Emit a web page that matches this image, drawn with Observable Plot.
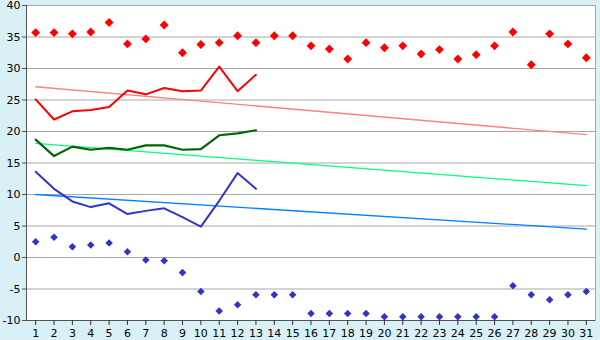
<!DOCTYPE html>
<html>
<head>
<meta charset="utf-8">
<script src="https://cdn.jsdelivr.net/npm/d3@7"></script>
<script src="https://cdn.jsdelivr.net/npm/@observablehq/plot@0.6"></script>
<style>
  html, body { margin: 0; padding: 0; background: #d9f0f6; }
  #chart { width: 600px; height: 340px; }
</style>
</head>
<body>
<div id="chart"></div>
<script>
const days = d3.range(1, 32);
const yTicks = [-10, -5, 0, 5, 10, 15, 20, 25, 30, 35, 40];

const recordMax = [35.7, 35.7, 35.5, 35.8, 37.3, 33.9, 34.7, 36.9, 32.5, 33.8,
  34.1, 35.2, 34.1, 35.2, 35.2, 33.6, 33.1, 31.5, 34.1, 33.3,
  33.6, 32.3, 33.0, 31.5, 32.2, 33.6, 35.8, 30.6, 35.5, 33.9, 31.7];
const recordMin = [2.5, 3.2, 1.7, 2.0, 2.3, 0.9, -0.4, -0.5, -2.4, -5.4,
  -8.5, -7.5, -5.9, -5.9, -5.9, -8.9, -8.9, -8.9, -8.9, -9.4,
  -9.4, -9.4, -9.4, -9.4, -9.4, -9.4, -4.5, -5.9, -6.7, -5.9, -5.4];

const obsDays = d3.range(1, 14);
const maxTemp = [25.1, 21.9, 23.2, 23.4, 23.9, 26.5, 25.9, 26.9, 26.4, 26.5, 30.3, 26.4, 29.0];
const meanTemp = [18.7, 16.1, 17.6, 17.1, 17.4, 17.1, 17.8, 17.8, 17.1, 17.2, 19.4, 19.7, 20.2];
const minTemp = [13.6, 10.9, 8.9, 8.0, 8.6, 6.9, 7.4, 7.8, 6.4, 4.9, 9.0, 13.4, 10.9];

const trendDays = [1, 31];
const normalMax = [27.1, 19.5];
const normalMean = [18.1, 11.4];
const normalMin = [10.0, 4.5];

const series = (xs, ys) => xs.map((x, i) => ({x, y: ys[i]}));

const chart = Plot.plot({
  width: 600,
  height: 340,
  marginLeft: 26,
  marginRight: 5,
  marginTop: 5,
  marginBottom: 20,
  style: {background: "#d9f0f6", fontFamily: "DejaVu Sans, Verdana, sans-serif", fontSize: "11px", color: "black"},
  x: {domain: [0.5, 31.5]},
  y: {domain: [-10, 40]},
  marks: [
    Plot.frame({fill: "white", stroke: "#a8a8a8"}),
    Plot.gridY(yTicks, {stroke: "#a8a8a8", strokeOpacity: 1}),
    Plot.line(series(trendDays, normalMax), {x: "x", y: "y", stroke: "#ff8080", strokeWidth: 1.3}),
    Plot.line(series(trendDays, normalMean), {x: "x", y: "y", stroke: "#00ff80", strokeWidth: 1.3}),
    Plot.line(series(trendDays, normalMin), {x: "x", y: "y", stroke: "#0080ff", strokeWidth: 1.3}),
    Plot.line(series(obsDays, maxTemp), {x: "x", y: "y", stroke: "#ff0000", strokeWidth: 2}),
    Plot.line(series(obsDays, meanTemp), {x: "x", y: "y", stroke: "#006600", strokeWidth: 2.2}),
    Plot.line(series(obsDays, minTemp), {x: "x", y: "y", stroke: "#3333cc", strokeWidth: 2}),
    Plot.dot(series(days, recordMax), {x: "x", y: "y", symbol: "diamond2", r: 4, fill: "#ff0000", stroke: "none"}),
    Plot.dot(series(days, recordMin), {x: "x", y: "y", symbol: "diamond2", r: 3.4, fill: "#3333cc", stroke: "none"}),
    Plot.ruleX([0.5], {stroke: "#555"}),
    Plot.ruleY([-10], {stroke: "#555"}),
    Plot.axisY(yTicks, {tickSize: 4, tickPadding: 2, stroke: "#555", fill: "black", fontSize: 11, label: null, tickFormat: d => String(d)}),
    Plot.axisX(days, {tickSize: 5, tickPadding: 4, stroke: "#333", fill: "black", fontSize: 11, label: null, tickFormat: d => String(d)})
  ]
});
document.getElementById("chart").appendChild(chart);
</script>
</body>
</html>
